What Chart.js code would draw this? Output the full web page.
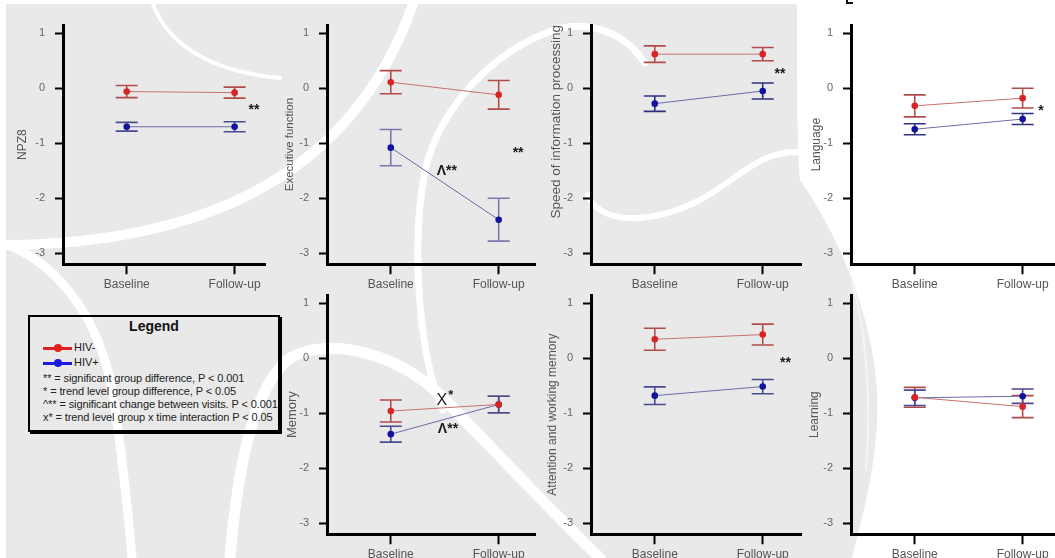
<!DOCTYPE html>
<html><head><meta charset="utf-8">
<script src="https://cdn.jsdelivr.net/npm/chart.js@4.4.1/dist/chart.umd.min.js"></script>
<style>
html,body{margin:0;padding:0;background:#fff;width:1055px;height:558px;overflow:hidden;position:relative;font-family:"Liberation Sans",Arial,sans-serif}
#bg{position:absolute;left:0;top:0}
canvas{position:absolute}
#legend{position:absolute;left:28px;top:315px;width:248px;height:113px;border:2px solid #000;box-shadow:2px 2px 0 #000;color:#222}
#legend .t{position:absolute;left:0;width:100%;top:1px;text-align:center;font-weight:bold;font-size:14px;line-height:16px;color:#111}
#legend .row{position:absolute;left:13px;font-size:11px;line-height:13px;white-space:nowrap;letter-spacing:-0.1px}
#legend .ico{position:absolute;left:13px;width:29px;height:3px}
#legend .ico i{position:absolute;left:11px;top:-3px;width:8px;height:8px;border-radius:50%}
#legend .lbl{position:absolute;left:44px;font-size:11px;line-height:13px}
</style></head><body>
<svg id="bg" width="1055" height="558" viewBox="0 0 1055 558">
 <path d="M6,4 H797 C797,80 797,150 800,180 C835,230 872,310 877,390 C880,460 862,515 852,558 H6 Z" fill="#e9e9e9"/>
 <g fill="none" stroke="#fff" stroke-linecap="round">
  <path d="M153,4 C168,45 212,72 280,78" stroke-width="4"/>
  <path d="M6,245 Q330,242 413,4" stroke-width="10"/>
  <path d="M0,242 C60,262 102,322 114,400 C122,455 128,510 132,558" stroke-width="9"/>
  <path d="M230,558 C238,460 255,385 290,358 C330,335 400,355 440,395 C480,435 540,500 600,558" stroke-width="11"/>
  <path d="M443,410 C420,360 410,250 425,170 C440,110 490,50 560,28 C600,20 630,40 645,63" stroke-width="7"/>
  <path d="M588,195 C600,225 650,225 700,200 C740,178 760,150 800,152" stroke-width="6"/>
  <path d="M852,282 C866,330 872,400 866,470" stroke-width="2" stroke="#f4f4f4"/>
 </g>
 <path d="M847,0 V3 H853" fill="none" stroke="#111" stroke-width="2"/>
</svg>
<div id="legend">
 <div class="t">Legend</div>
 <div class="ico" style="top:30px;background:#e02020"><i style="background:#e02020"></i></div>
 <div class="lbl" style="top:24px">HIV-</div>
 <div class="ico" style="top:45px;background:#1a1ae0"><i style="background:#1a1ae0"></i></div>
 <div class="lbl" style="top:39px">HIV+</div>
 <div class="row" style="top:55px">** = significant group difference, P &lt; 0.001</div>
 <div class="row" style="top:68px">* = trend level group difference, P &lt; 0.05</div>
 <div class="row" style="top:81px">^** = significant change between visits. P &lt; 0.001</div>
 <div class="row" style="top:94px">x* = trend level group x time interaction P &lt; 0.05</div>
</div>
<script>
// ---- data ----
const timepoints = ['Baseline', 'Follow-up'];
const yTicks = [1, 0, -1, -2, -3];
const groupNames = ['HIV-', 'HIV+'];

const npz8Neg = [-0.06, -0.08];   const npz8NegErr = [0.11, 0.10];
const npz8Pos = [-0.70, -0.70];   const npz8PosErr = [0.08, 0.09];

const execNeg = [0.11, -0.12];    const execNegErr = [0.21, 0.26];
const execPos = [-1.08, -2.39];   const execPosErr = [0.33, 0.39];

const speedNeg = [0.62, 0.62];    const speedNegErr = [0.15, 0.12];
const speedPos = [-0.28, -0.05];  const speedPosErr = [0.14, 0.145];

const langNeg = [-0.32, -0.18];   const langNegErr = [0.20, 0.18];
const langPos = [-0.745, -0.56];  const langPosErr = [0.10, 0.10];

const memNeg = [-0.96, -0.84];    const memNegErr = [0.20, 0.15];
const memPos = [-1.38, -0.84];    const memPosErr = [0.145, 0.15];

const attNeg = [0.345, 0.43];     const attNegErr = [0.20, 0.19];
const attPos = [-0.68, -0.515];   const attPosErr = [0.16, 0.13];

const learnNeg = [-0.71, -0.88];  const learnNegErr = [0.18, 0.20];
const learnPos = [-0.72, -0.69];  const learnPosErr = [0.14, 0.13];

// ---- panel definitions (layout) ----
const colAxisX = [63, 327, 591, 851];
const colEndX = [269, 539, 805, 1060];
const panels = [
  {title:'NPZ8', col:0, row:0, tSize:12, tDist:40, neg:npz8Neg, negErr:npz8NegErr, pos:npz8Pos, posErr:npz8PosErr,
   notes:[{text:'**', x:1.18, y:-0.36}]},
  {title:'Executive function', col:1, row:0, tSize:11.5, tDist:37, neg:execNeg, negErr:execNegErr, pos:execPos, posErr:execPosErr,
   notes:[{text:'Λ**', x:0.52, y:-1.47}, {text:'**', x:1.18, y:-1.14}], posBar:'#7878ac'},
  {title:'Speed of information processing', col:2, row:0, tSize:13.5, tDist:35, tAlign:'end', neg:speedNeg, negErr:speedNegErr, pos:speedPos, posErr:speedPosErr,
   notes:[{text:'**', x:1.16, y:0.30}], posBar:'#303080'},
  {title:'Language', col:3, row:0, tSize:12, tDist:34, neg:langNeg, negErr:langNegErr, pos:langPos, posErr:langPosErr,
   notes:[{text:'*', x:1.17, y:-0.38}], posBar:'#303080'},
  {title:'Memory', col:1, row:1, tSize:13, tDist:35, neg:memNeg, negErr:memNegErr, pos:memPos, posErr:memPosErr,
   notes:[{text:'X*', x:0.50, y:-0.75, big:true}, {text:'Λ**', x:0.53, y:-1.25}]},
  {title:'Attention and working memory', col:2, row:1, tSize:12, tDist:38, neg:attNeg, negErr:attNegErr, pos:attPos, posErr:attPosErr,
   notes:[{text:'**', x:1.21, y:-0.06}]},
  {title:'Learning', col:3, row:1, tSize:12, tDist:36, neg:learnNeg, negErr:learnNegErr, pos:learnPos, posErr:learnPosErr,
   notes:[]}
];

const Y_MIN = -3.2, Y_MAX = 1.15, PX_PER_UNIT = 55, X_UNIT = 110, BASE_OFF = 65, Y_BOX = 60, TOP_PAD = 25;
const chartH = (Y_MAX - Y_MIN) * PX_PER_UNIT;

const errorBarPlugin = {
  id: 'errorBars',
  beforeDatasetsDraw(chart) {
    const ctx = chart.ctx, xs = chart.scales.x, ys = chart.scales.y;
    chart.data.datasets.forEach((ds) => {
      ctx.save();
      ctx.strokeStyle = ds.errColor;
      ctx.lineWidth = 1.6;
      ds.data.forEach((p, i) => {
        const e = ds.errors[i];
        const x = xs.getPixelForValue(p.x);
        const yt = ys.getPixelForValue(p.y + e);
        const yb = ys.getPixelForValue(p.y - e);
        ctx.beginPath();
        ctx.moveTo(x, yt); ctx.lineTo(x, yb);
        ctx.moveTo(x - 11, yt); ctx.lineTo(x + 11, yt);
        ctx.moveTo(x - 11, yb); ctx.lineTo(x + 11, yb);
        ctx.stroke();
      });
      ctx.restore();
    });
  }
};

const notesPlugin = {
  id: 'notes',
  afterDatasetsDraw(chart, args, opts) {
    const ctx = chart.ctx, xs = chart.scales.x, ys = chart.scales.y;
    (opts.items || []).forEach(n => {
      ctx.save();
      ctx.fillStyle = '#1a1a1a';
      ctx.textAlign = 'center';
      ctx.textBaseline = 'middle';
      const x = xs.getPixelForValue(n.x), y = ys.getPixelForValue(n.y);
      if (n.big) {
        ctx.font = '16px "Liberation Sans", Arial, sans-serif';
        ctx.fillText(n.text[0], x - 3, y + 1);
        ctx.font = 'bold 13px "Liberation Sans", Arial, sans-serif';
        ctx.fillText(n.text.slice(1), x + 6, y - 4);
      } else {
        ctx.font = 'bold 14px "Liberation Sans", Arial, sans-serif';
        ctx.fillText(n.text, x, y + 2);
      }
      ctx.restore();
    });
  }
};

panels.forEach(p => {
  const axisX = colAxisX[p.col], endX = colEndX[p.col];
  const left = axisX - Y_BOX;
  const top = p.row === 0 ? 0 : 270;
  const width = endX - left;
  const height = p.row === 0 ? 300 : 288;
  const xMin = -BASE_OFF / X_UNIT;
  const xMax = xMin + (endX - axisX) / X_UNIT;
  const cv = document.createElement('canvas');
  cv.width = width; cv.height = height;
  cv.style.left = left + 'px'; cv.style.top = top + 'px';
  cv.style.width = width + 'px'; cv.style.height = height + 'px';
  document.body.appendChild(cv);
  const lh = p.tSize * 1.2;
  const toPts = vals => timepoints.map((t, i) => ({x: i, y: vals[i]}));
  new Chart(cv, {
    type: 'line',
    data: {
      datasets: [
        {label: groupNames[0], data: toPts(p.neg), errors: p.negErr, errColor: p.negBar || '#b24c4c',
         borderColor: '#c87070', borderWidth: 1, pointRadius: 3.3, pointBackgroundColor: '#d82424', pointBorderWidth: 0},
        {label: groupNames[1], data: toPts(p.pos), errors: p.posErr, errColor: p.posBar || '#4a4a92',
         borderColor: '#6c6ca4', borderWidth: 1, pointRadius: 3.3, pointBackgroundColor: '#1212a0', pointBorderWidth: 0}
      ]
    },
    options: {
      responsive: false, animation: false, devicePixelRatio: 1,
      layout: {padding: {top: TOP_PAD, left: 0, right: 0, bottom: 0}},
      plugins: {legend: {display: false}, tooltip: {enabled: false}, notes: {items: p.notes}},
      scales: {
        x: {
          type: 'linear', min: xMin, max: xMax,
          afterBuildTicks: s => { s.ticks = timepoints.map((t, i) => ({value: i})); },
          afterFit: s => { s.height = height - TOP_PAD - chartH; },
          ticks: {callback: v => timepoints[v], color: '#555', font: {size: 12, family: '"Liberation Sans", Arial, sans-serif'},
                  padding: 3, maxRotation: 0, autoSkip: false},
          grid: {display: true, drawOnChartArea: false, drawTicks: true, tickLength: 10, tickColor: '#000', tickWidth: 2},
          border: {display: true, color: '#000', width: 3}
        },
        y: {
          type: 'linear', min: Y_MIN, max: Y_MAX,
          afterBuildTicks: s => { s.ticks = yTicks.map(v => ({value: v})); },
          afterFit: s => { s.width = Y_BOX; },
          ticks: {color: '#666', font: {size: 11, family: '"Liberation Sans", Arial, sans-serif'}, padding: 10},
          grid: {display: true, drawOnChartArea: false, drawTicks: true, tickLength: 8, tickColor: '#000', tickWidth: 2},
          border: {display: true, color: '#000', width: 3},
          title: {display: true, text: p.title, color: '#555', align: p.tAlign || 'center',
                  font: {size: p.tSize, family: '"Liberation Sans", Arial, sans-serif'},
                  padding: {top: Y_BOX - lh / 2 - p.tDist, bottom: 0}}
        }
      }
    },
    plugins: [errorBarPlugin, notesPlugin]
  });
});
</script>
</body></html>
